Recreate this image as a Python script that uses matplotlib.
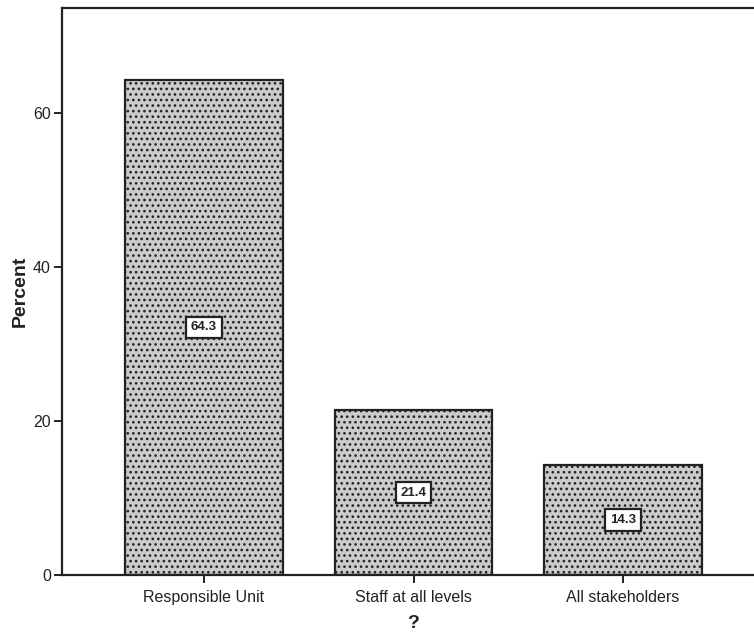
import matplotlib.pyplot as plt
import matplotlib as mpl

mpl.rcParams['font.family'] = ['Liberation Sans', 'DejaVu Sans']
mpl.rcParams['hatch.color'] = '#888888'
mpl.rcParams['hatch.linewidth'] = 1.1

categories = ['Responsible Unit', 'Staff at all levels', 'All stakeholders']
percent = [64.3, 21.4, 14.3]

fig = plt.figure(figsize=(7.54, 6.34), dpi=100)
# frame runs past the right edge of the figure
ax = fig.add_axes([62 / 754, 59 / 634, 703 / 754, 567 / 634])

x = range(len(categories))
ax.bar(x, percent, width=0.754, color='#cbcbcb', edgecolor='#222222',
       linewidth=1.6, hatch='...', zorder=2)

# value boxes sit in the middle of each bar
for xi, v in zip(x, percent):
    ax.text(xi, v / 2, f'{v:.1f}', ha='center', va='center', fontsize=9.5,
            fontweight='bold', color='#222222', zorder=3,
            bbox=dict(boxstyle='square,pad=0.35', fc='white', ec='#222222', lw=1.6))

ax.set_xlim(-0.678, 2.678)
ax.set_ylim(0, 73.6)
ax.set_yticks([0, 20, 40, 60])
ax.set_xticks(list(x))
ax.set_xticklabels(categories)
ax.tick_params(axis='both', direction='out', length=6, width=1.4,
               labelsize=11.5, colors='#222222', pad=2)
ax.tick_params(axis='x', pad=5)

for side in ['left', 'top', 'bottom', 'right']:
    ax.spines[side].set_linewidth(1.6)
    ax.spines[side].set_color('#222222')

ax.set_ylabel('Percent', fontsize=14, fontweight='bold', color='#222222', labelpad=3)
ax.set_xlabel('?', fontsize=14, fontweight='bold', color='#222222', labelpad=7)

fig.savefig('out.png', dpi=100)
